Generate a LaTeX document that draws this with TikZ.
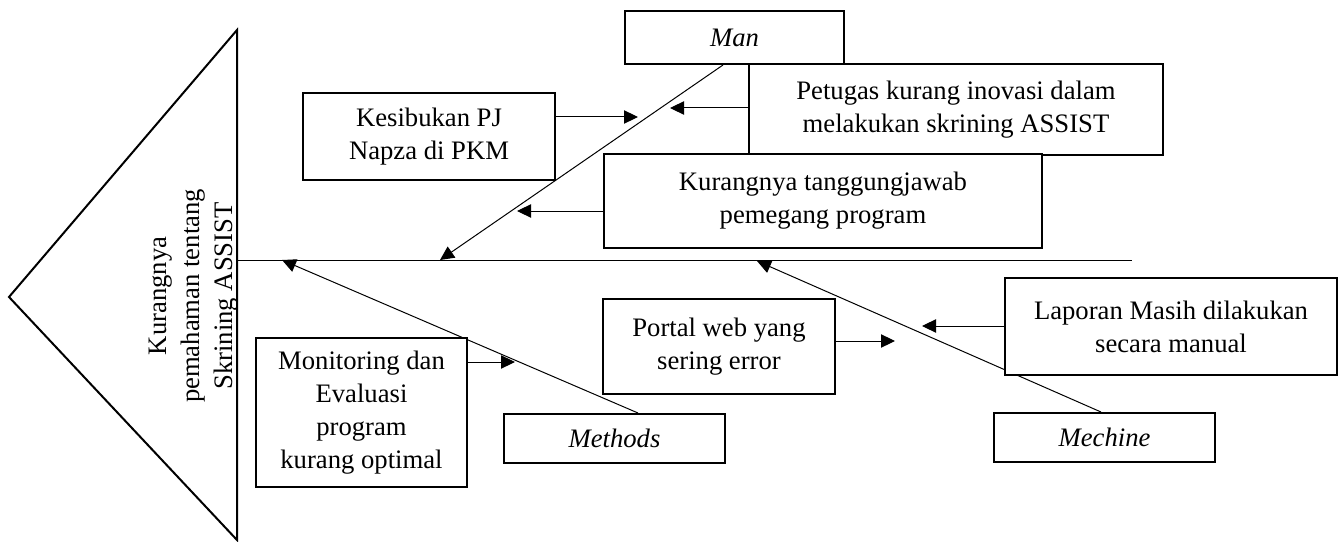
\documentclass[tikz,border=0pt]{standalone}
\usepackage{fontspec}
\setmainfont{Liberation Serif}
\usetikzlibrary{arrows.meta}
\begin{document}
\begin{tikzpicture}[x=0.75pt,y=-0.75pt,
  txt/.style={font=\fontsize{20}{24.75}\selectfont},
  box/.style 2 args={draw, line width=1.5pt, fill=white, align=center, inner sep=0pt,
    minimum width=#1, minimum height=#2, txt},
  ibox/.style 2 args={box={#1}{#2}, font=\fontsize{20}{24.75}\selectfont\itshape},
  bone/.style={line width=0.75pt},
  arr/.style={line width=0.75pt, -{Triangle[length=10.5pt,width=10pt]}}]
\useasboundingbox (0,0) rectangle (1343,542);

% head (triangle)
\coordinate (ttop) at (237,30);
\coordinate (tapex) at (9,297);
\coordinate (tbot) at (237,540);
\draw[line width=1.5pt, line join=miter] (ttop) -- (tapex) -- (tbot) -- cycle;
\node[txt, rotate=90, align=center, inner sep=0pt] (effect) at (194,296)
  {Kurangnya\\pemahaman tentang\\Skrining ASSIST};

% spine
\coordinate (sL) at (237,260);
\coordinate (sR) at (1132,260);
\draw[bone] (sL) -- (sR);

% bones
\coordinate (manfoot) at (723,65);
\coordinate (mantip) at (440,260);
\draw[arr] (manfoot) -- (mantip);
\coordinate (methfoot) at (638,413);
\coordinate (methtip) at (282,260);
\draw[arr] (methfoot) -- (methtip);
\coordinate (mechfoot) at (1101,412);
\coordinate (mechtip) at (757,261);
\draw[arr] (mechfoot) -- (mechtip);

% category boxes
\node[ibox={164.25pt}{39.75pt}] (man) at (734.5,37.5) {Man};
\node[ibox={165.75pt}{36.75pt}] (meth) at (614.5,438.5) {Methods};
\node[ibox={165.75pt}{36.75pt}] (mech) at (1104.5,437.5) {Mechine};

% cause boxes
\node[box={310.5pt}{68.25pt}] (pet) at (956,109.5) {Petugas kurang inovasi dalam\\melakukan skrining ASSIST};
\node[box={189pt}{65.25pt}] (kes) at (429,136.5) {Kesibukan PJ\\Napza di PKM};
\node[box={328.5pt}{70.5pt}] (kur) at (823,201) {Kurangnya tanggungjawab\\pemegang program};
\node[box={158.25pt}{111.75pt}] (mon) at (361.5,412.5) {Monitoring dan\\Evaluasi\\program\\kurang optimal};
\node[box={174pt}{71.25pt}] (por) at (719,346.5) {Portal web yang\\sering error};
\node[box={249pt}{72.75pt}] (lap) at (1171,326.5) {Laporan Masih dilakukan\\secara manual};

% cause arrows
\coordinate (a1) at (670,108);
\draw[arr] (pet.west |- a1) -- (a1);
\coordinate (a2) at (638,117);
\draw[arr] (kes.east |- a2) -- (a2);
\coordinate (a3) at (517,211);
\draw[arr] (kur.west |- a3) -- (a3);
\coordinate (a4) at (515,362);
\draw[arr] (mon.east |- a4) -- (a4);
\coordinate (a5) at (895,341);
\draw[arr] (por.east |- a5) -- (a5);
\coordinate (a6) at (922,326);
\draw[arr] (lap.west |- a6) -- (a6);
\end{tikzpicture}
\end{document}
